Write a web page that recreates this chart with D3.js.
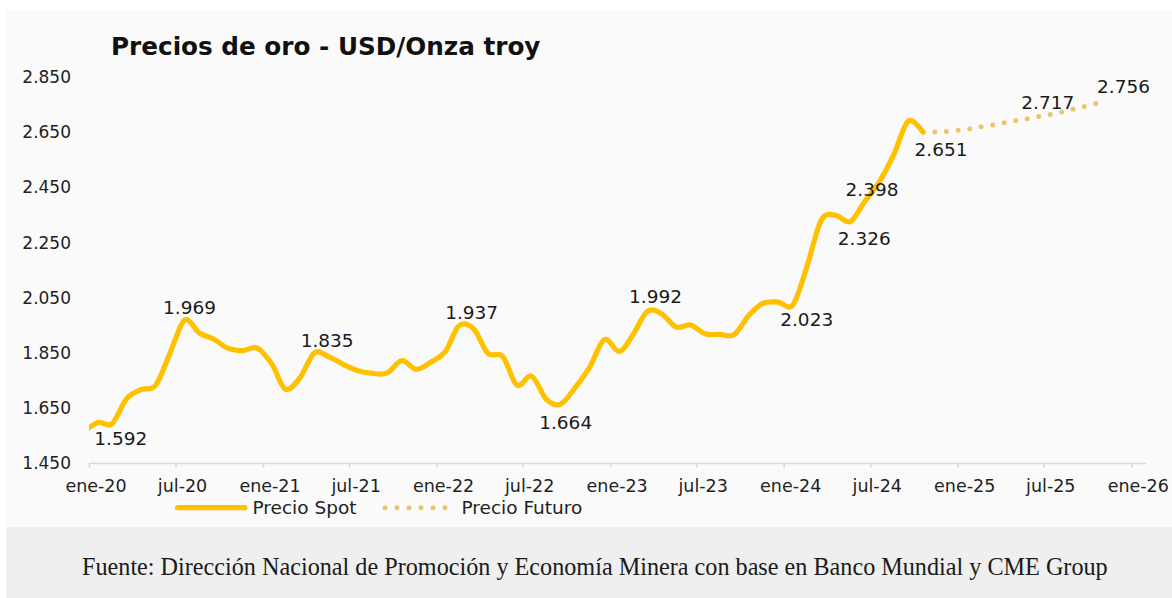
<!DOCTYPE html>
<html lang="es">
<head>
<meta charset="utf-8">
<script src="https://cdn.jsdelivr.net/npm/d3@7"></script>
<style>
  body { margin: 0; background: #fff; }
  svg { display: block; font-family: 'DejaVu Sans', sans-serif; }
</style>
</head>
<body>
<svg id="chart"></svg>
<script>
// Precio spot del oro, promedio mensual (USD/oz)
const spotMonths = [
  '2020-01', '2020-02', '2020-03', '2020-04', '2020-05', '2020-06', '2020-07', '2020-08', '2020-09', '2020-10', '2020-11', '2020-12',
  '2021-01', '2021-02', '2021-03', '2021-04', '2021-05', '2021-06', '2021-07', '2021-08', '2021-09', '2021-10', '2021-11', '2021-12',
  '2022-01', '2022-02', '2022-03', '2022-04', '2022-05', '2022-06', '2022-07', '2022-08', '2022-09', '2022-10', '2022-11', '2022-12',
  '2023-01', '2023-02', '2023-03', '2023-04', '2023-05', '2023-06', '2023-07', '2023-08', '2023-09', '2023-10', '2023-11', '2023-12',
  '2024-01', '2024-02', '2024-03', '2024-04', '2024-05', '2024-06', '2024-07', '2024-08', '2024-09', '2024-10', '2024-11',
];
const spotValues = [
  1561, 1597, 1592, 1683, 1716, 1732, 1847, 1969, 1922, 1900, 1866, 1858,
  1867, 1808, 1718, 1760, 1850, 1835, 1808, 1785, 1775, 1777, 1822, 1790,
  1816, 1856, 1948, 1937, 1848, 1837, 1733, 1765, 1681, 1664, 1725, 1798,
  1898, 1855, 1913, 2000, 1992, 1943, 1951, 1919, 1917, 1916, 1986, 2030,
  2034, 2023, 2158, 2331, 2349, 2326, 2398, 2470, 2571, 2691, 2651,
];

// Precio futuro (curva CME)
const futureMonths = [
  '2024-11', '2024-12', '2025-01', '2025-02', '2025-03', '2025-04', '2025-05',
  '2025-06', '2025-07', '2025-08', '2025-09', '2025-10', '2025-11',
];
const futureValues = [2651, 2652, 2655, 2662, 2670, 2678, 2688, 2697, 2707, 2717, 2729, 2742, 2756];

// puntos con etiqueta
const spotLabelMonths = ['2020-03', '2020-08', '2021-06', '2022-04', '2022-10', '2023-05', '2024-02', '2024-06', '2024-07', '2024-11'];
const futureLabelMonths = ['2025-08', '2025-11'];

const yTicks = [1450, 1650, 1850, 2050, 2250, 2450, 2650, 2850];
const legendNames = ['Precio Spot', 'Precio Futuro'];

const title = 'Precios de oro - USD/Onza troy';
const source = 'Fuente: Dirección Nacional de Promoción y Economía Minera con base en Banco Mundial y CME Group';

const width = 1172;
const height = 598;
const spotColor = '#FFC000';
const futureColor = '#EBC56D';

// desplazamiento de cada etiqueta respecto de su punto
const labelNudges = [
  [9, 14], [5, -13], [-2, -17], [-2, -16], [5, 18], [-6, -17],
  [14, 14], [14, 16.5], [7.5, -12.5], [18, 17], [-5, -12], [27, -17],
];

const parseMonth = d3.timeParse('%Y-%m');
const esTime = d3.timeFormatLocale({
  dateTime: '%x %X', date: '%d/%m/%Y', time: '%H:%M:%S', periods: ['AM', 'PM'],
  days: ['domingo', 'lunes', 'martes', 'miércoles', 'jueves', 'viernes', 'sábado'],
  shortDays: ['dom', 'lun', 'mar', 'mié', 'jue', 'vie', 'sáb'],
  months: ['enero', 'febrero', 'marzo', 'abril', 'mayo', 'junio', 'julio', 'agosto', 'septiembre', 'octubre', 'noviembre', 'diciembre'],
  shortMonths: ['ene', 'feb', 'mar', 'abr', 'may', 'jun', 'jul', 'ago', 'sep', 'oct', 'nov', 'dic'],
});
const fmtTick = esTime.format('%b-%y');
const fmtNum = d3.formatLocale({ decimal: ',', thousands: '.', grouping: [3], currency: ['$', ''] }).format(',.0f');

const spot = spotMonths.map((m, i) => ({ date: parseMonth(m), value: spotValues[i] }));
const future = futureMonths.map((m, i) => ({ date: parseMonth(m), value: futureValues[i] }));

const axisStart = new Date(2020, 0, 13);
const axisEnd = new Date(2026, 1, 13);

const x = d3.scaleTime()
  .domain([axisStart, axisEnd])
  .range([89, 1146]);

const y = d3.scaleLinear()
  .domain([1450, 2850])
  .range([463, 77.3]);

const svg = d3.select('#chart')
  .attr('width', width)
  .attr('height', height);

// fondos
svg.append('rect')
  .attr('x', 6).attr('y', 10)
  .attr('width', width - 6).attr('height', 517)
  .attr('fill', '#fafafa');
svg.append('rect')
  .attr('x', 6).attr('y', 527)
  .attr('width', width - 6).attr('height', height - 527)
  .attr('fill', '#efefef');

svg.append('text')
  .attr('x', 111)
  .attr('y', 55)
  .attr('font-size', 24.7)
  .attr('font-weight', 'bold')
  .attr('fill', '#111')
  .text(title);

svg.append('defs').append('clipPath')
  .attr('id', 'plot-clip')
  .append('rect')
  .attr('x', x.range()[0]).attr('y', 0)
  .attr('width', x.range()[1] - x.range()[0]).attr('height', height);

// eje y
const xTickValues = d3.range(0, 13).map((k) => d3.timeMonth.offset(axisStart, 6 * k));

const yAxis = svg.append('g')
  .attr('transform', `translate(${x.range()[0]}, 0)`)
  .call(d3.axisLeft(y).tickValues(yTicks).tickSize(0).tickPadding(18).tickFormat(fmtNum));
yAxis.select('.domain').remove();
yAxis.selectAll('text')
  .attr('font-size', 17)
  .attr('font-family', 'DejaVu Sans')
  .attr('fill', '#222');

// eje x
const xAxis = svg.append('g')
  .attr('transform', `translate(0, ${y.range()[0]})`)
  .call(d3.axisBottom(x).tickValues(xTickValues).tickSize(5).tickSizeOuter(0).tickPadding(12).tickFormat(fmtTick));
xAxis.select('.domain')
  .attr('stroke', '#d9d9d9')
  .attr('stroke-width', 1.5);
xAxis.selectAll('line')
  .attr('stroke', '#d9d9d9')
  .attr('stroke-width', 1.5);
xAxis.selectAll('text')
  .attr('font-size', 17.5)
  .attr('font-family', 'DejaVu Sans')
  .attr('fill', '#222')
  .attr('dx', 6.5);

const line = d3.line()
  .x((d) => x(d.date))
  .y((d) => y(d.value))
  .curve(d3.curveCatmullRom.alpha(0));

const plot = svg.append('g').attr('clip-path', 'url(#plot-clip)');

plot.append('path')
  .datum(future)
  .attr('d', line)
  .attr('fill', 'none')
  .attr('stroke', futureColor)
  .attr('stroke-width', 5)
  .attr('stroke-linecap', 'round')
  .attr('stroke-dasharray', '0 11.7');

plot.append('path')
  .datum(spot)
  .attr('d', line)
  .attr('fill', 'none')
  .attr('stroke', spotColor)
  .attr('stroke-width', 5.2)
  .attr('stroke-linecap', 'round')
  .attr('stroke-linejoin', 'round');

// etiquetas de datos
const labelled = spotLabelMonths.map((m) => spot.find((d) => +d.date === +parseMonth(m)))
  .concat(futureLabelMonths.map((m) => future.find((d) => +d.date === +parseMonth(m))));

svg.append('g')
  .selectAll('text')
  .data(labelled)
  .join('text')
  .attr('x', (d, i) => x(d.date) + labelNudges[i][0])
  .attr('y', (d, i) => y(d.value) + labelNudges[i][1])
  .attr('dy', '0.36em')
  .attr('text-anchor', 'middle')
  .attr('font-size', 18.5)
  .attr('fill', '#1a1a1a')
  .text((d) => fmtNum(d.value));

// leyenda
const legend = svg.append('g').attr('transform', 'translate(0, 507.7)');
legend.append('line')
  .attr('x1', 177.5).attr('x2', 245)
  .attr('stroke', spotColor)
  .attr('stroke-width', 5.2)
  .attr('stroke-linecap', 'round');
legend.append('text')
  .attr('x', 252.5).attr('dy', '0.33em')
  .attr('font-size', 18.5)
  .attr('fill', '#222')
  .text(legendNames[0]);
legend.append('line')
  .attr('x1', 385).attr('x2', 447)
  .attr('stroke', futureColor)
  .attr('stroke-width', 5)
  .attr('stroke-linecap', 'round')
  .attr('stroke-dasharray', '0 12');
legend.append('text')
  .attr('x', 461.5).attr('dy', '0.33em')
  .attr('font-size', 18.5)
  .attr('fill', '#222')
  .text(legendNames[1]);

svg.append('text')
  .attr('x', 82)
  .attr('y', 575)
  .attr('font-family', '"Liberation Serif", serif')
  .attr('font-size', 24.2)
  .attr('fill', '#1a1a1a')
  .text(source);
</script>
</body>
</html>
